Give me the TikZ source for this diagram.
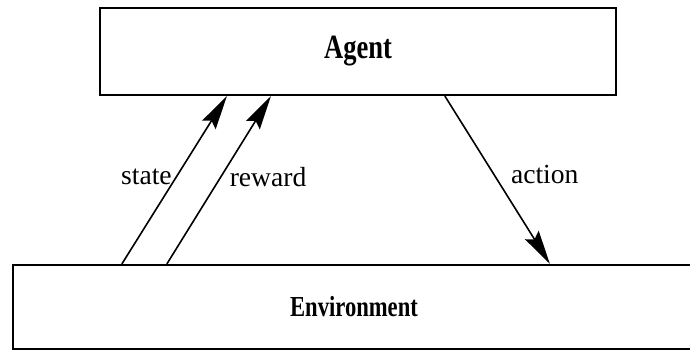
\documentclass[tikz,border=0pt]{standalone}
\usepackage{fontspec}
\setmainfont{Liberation Serif}
\newfontfamily\boxfont{Liberation Serif}[FakeStretch=0.78]
\usepackage{tikz}
\usetikzlibrary{arrows.meta,positioning,calc}

\begin{document}
\begin{tikzpicture}[x=0.5pt, y=-0.5pt, >={Stealth[length=17pt,width=8pt,inset=2.5pt]},
  box/.style={draw, line width=1.1pt, inner sep=0pt},
  flow/.style={->, line width=0.8pt},
  lbl/.style={font=\fontsize{13.8}{16}\selectfont, inner sep=2pt}]
\useasboundingbox (0,0) rectangle (690,351);
\node[box, minimum width=258pt, minimum height=43.5pt,
  font=\boxfont\bfseries\fontsize{17}{18}\selectfont] (agent) at (358,51.5) {Agent};
\node[box, minimum width=341pt, minimum height=42pt,
  font=\boxfont\bfseries\fontsize{14.5}{16}\selectfont] (env) at (354,307) {Environment};
% state and reward go up, action goes down
\draw[flow] ($(env.north west)+(110,0)$) -- node[lbl, pos=0.52, anchor=east] {state} ($(agent.south west)+(128,0)$);
\draw[flow] ($(env.north west)+(155,0)$) -- node[lbl, pos=0.52, anchor=west, xshift=2pt] {reward} ($(agent.south west)+(172,0)$);
\draw[flow] ($(agent.south west)+(346,0)$) -- node[lbl, pos=0.47, anchor=west, xshift=6pt] {action} ($(env.north west)+(538,0)$);
\end{tikzpicture}
\end{document}
